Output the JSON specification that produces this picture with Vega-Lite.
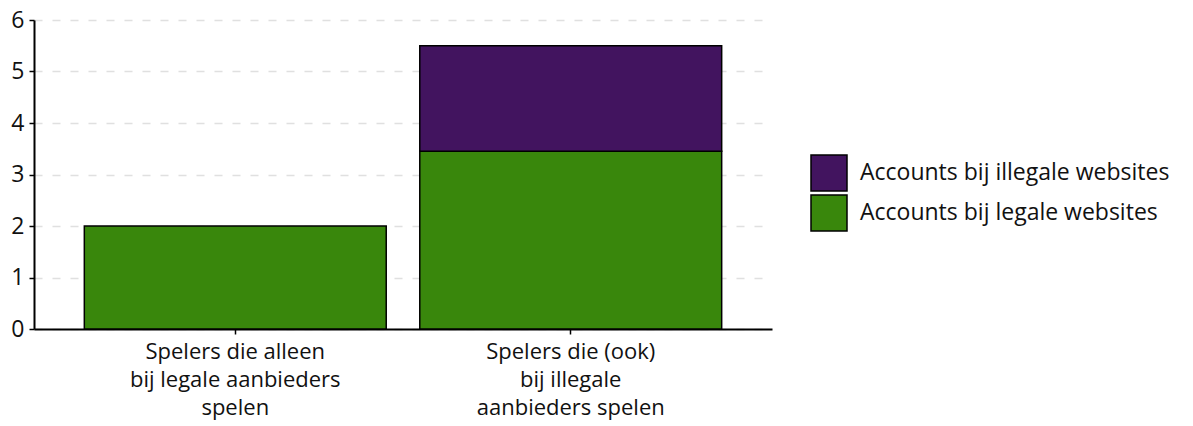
{
  "$schema": "https://vega.github.io/schema/vega-lite/v6.json",
  "width": 738,
  "height": 309,
  "autosize": {"type": "none"},
  "padding": {"left": 34, "top": 20, "right": 421, "bottom": 97},
  "background": "white",
  "config": {
    "font": "Open Sans",
    "view": {"stroke": null}
  },
  "data": {
    "values": [
      {"groep": "Spelers die alleen\nbij legale aanbieders\nspelen", "serie": "Accounts bij legale websites", "waarde": 2.0},
      {"groep": "Spelers die (ook)\nbij illegale\naanbieders spelen", "serie": "Accounts bij legale websites", "waarde": 3.45},
      {"groep": "Spelers die (ook)\nbij illegale\naanbieders spelen", "serie": "Accounts bij illegale websites", "waarde": 2.05}
    ]
  },
  "mark": {"type": "bar", "stroke": "#000000", "strokeWidth": 1.5},
  "encoding": {
    "x": {
      "field": "groep",
      "type": "nominal",
      "sort": null,
      "scale": {"paddingInner": 0.1, "paddingOuter": 0.15},
      "axis": {
        "title": null,
        "labelAngle": 0,
        "labelExpr": "split(datum.label, '\\n')",
        "labelFontSize": 22,
        "labelColor": "#111111",
        "labelLineHeight": 28,
        "labelPadding": 7,
        "labelLimit": 400,
        "domainColor": "#000000",
        "domainWidth": 2,
        "tickColor": "#000000",
        "tickWidth": 1.5,
        "tickSize": 5
      }
    },
    "y": {
      "field": "waarde",
      "type": "quantitative",
      "stack": "zero",
      "scale": {"domain": [0, 6], "nice": false},
      "axis": {
        "title": null,
        "values": [0, 1, 2, 3, 4, 5, 6],
        "labelFontSize": 23,
        "labelColor": "#111111",
        "labelPadding": 5,
        "domainColor": "#000000",
        "domainWidth": 2,
        "tickColor": "#000000",
        "tickWidth": 1.5,
        "tickSize": 5,
        "grid": true,
        "gridColor": "#e0e0e0",
        "gridDash": [8, 10],
        "gridWidth": 1.5
      }
    },
    "color": {
      "field": "serie",
      "type": "nominal",
      "scale": {
        "domain": ["Accounts bij illegale websites", "Accounts bij legale websites"],
        "range": ["#42145f", "#39870c"]
      },
      "legend": {
        "title": null,
        "orient": "none",
        "legendX": 776,
        "legendY": 134,
        "symbolType": "square",
        "symbolSize": 1296,
        "symbolStrokeColor": "#000000",
        "symbolStrokeWidth": 1.5,
        "symbolOpacity": 1,
        "labelFontSize": 23,
        "labelColor": "#111111",
        "labelOffset": 12,
        "labelLimit": 400,
        "rowPadding": -6
      }
    },
    "order": {"field": "serie", "sort": "descending"}
  }
}
